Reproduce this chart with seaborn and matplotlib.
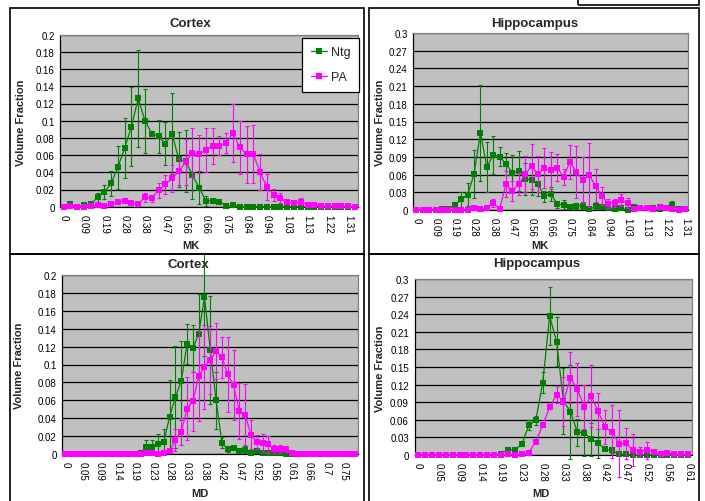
import numpy as np
import pandas as pd
import seaborn as sns
import matplotlib
matplotlib.use("Agg")
import matplotlib.pyplot as plt
from matplotlib.patches import Rectangle
from matplotlib.transforms import Bbox, TransformedBbox
from matplotlib.lines import Line2D

# ---------------- data ----------------
series_names = ["Ntg", "PA"]

mk_ticklabels = ["0", "0.09", "0.19", "0.28", "0.38", "0.47", "0.56", "0.66", "0.75",
                 "0.84", "0.94", "1.03", "1.13", "1.22", "1.31"]
md_ticklabels_ctx = ["0", "0.05", "0.09", "0.14", "0.19", "0.23", "0.28", "0.33", "0.38",
                     "0.42", "0.47", "0.52", "0.56", "0.61", "0.66", "0.7", "0.75"]
md_ticklabels_hip = ["0", "0.05", "0.09", "0.14", "0.19", "0.23", "0.28", "0.33", "0.38",
                     "0.42", "0.47", "0.52", "0.56", "0.61"]

# Cortex MK (44 bins)
ctx_mk_ntg = [0, 0.003, 0, 0.002, 0.003, 0.011, 0.017, 0.027, 0.046, 0.068,
              0.093, 0.126, 0.100, 0.085, 0.082, 0.073, 0.085, 0.055, 0.053, 0.037,
              0.022, 0.007, 0.007, 0.006, 0.001, 0.002, 0, 0, 0, 0,
              0, 0, 0, 0, 0, 0, 0, 0, 0, 0, 0, 0, 0, 0]
ctx_mk_ntg_err = [0, 0.001, 0, 0.001, 0.001, 0.005, 0.008, 0.014, 0.025, 0.035,
                  0.046, 0.056, 0.037, 0.003, 0.019, 0.025, 0.047, 0.032, 0.036, 0.028,
                  0.019, 0.006, 0.003, 0.003, 0.001, 0.001, 0, 0, 0, 0,
                  0, 0, 0, 0, 0, 0, 0, 0, 0, 0, 0, 0, 0, 0]
ctx_mk_pa = [0, 0.0005, 0, 0, 0.001, 0.002, 0.001, 0.003, 0.005, 0.007,
             0.004, 0.003, 0.011, 0.010, 0.019, 0.026, 0.033, 0.041, 0.052, 0.063,
             0.061, 0.066, 0.071, 0.071, 0.074, 0.086, 0.069, 0.061, 0.061, 0.040,
             0.023, 0.014, 0.010, 0.005, 0.004, 0.006, 0.002, 0.002, 0.001, 0.001,
             0.001, 0.001, 0.0005, 0]
ctx_mk_pa_err = [0, 0, 0, 0, 0.001, 0.001, 0.001, 0.001, 0.002, 0.003,
                 0.001, 0.001, 0.005, 0.004, 0.009, 0.011, 0.016, 0.016, 0.027, 0.029,
                 0.022, 0.026, 0.021, 0.011, 0.012, 0.034, 0.031, 0.033, 0.034, 0.021,
                 0.015, 0.007, 0.006, 0.002, 0.002, 0.004, 0.001, 0.001, 0, 0,
                 0, 0, 0, 0]

# Hippocampus MK (43 bins)
hip_mk_ntg = [0, 0, 0, 0, 0.001, 0.001, 0.008, 0.018, 0.026, 0.061,
              0.131, 0.073, 0.093, 0.090, 0.078, 0.063, 0.066, 0.053, 0.051, 0.044,
              0.023, 0.027, 0.010, 0.009, 0.005, 0.007, 0.007, 0.001, 0.006, 0.005,
              0.004, 0.001, 0.003, 0, 0.005, 0.003, 0.003, 0.004, 0.002, 0.003,
              0.009, 0.001, 0.002]
hip_mk_ntg_err = [0, 0, 0, 0, 0.001, 0.001, 0.005, 0.013, 0.019, 0.040,
                  0.081, 0.042, 0.032, 0.016, 0.018, 0.031, 0.034, 0.027, 0.025, 0.020,
                  0.010, 0.012, 0.006, 0.008, 0.002, 0.005, 0.006, 0.001, 0.004, 0.002,
                  0.002, 0.001, 0.002, 0, 0.003, 0.002, 0.002, 0.002, 0.001, 0.002,
                  0.007, 0.001, 0.002]
hip_mk_pa = [0, 0, 0, 0, 0, 0, 0, 0, 0, 0.003,
             0.002, 0.003, 0.012, 0.002, 0.044, 0.033, 0.044, 0.061, 0.074, 0.061,
             0.071, 0.067, 0.072, 0.056, 0.082, 0.064, 0.051, 0.059, 0.041, 0.024,
             0.011, 0.012, 0.017, 0.012, 0.001, 0.004, 0.004, 0.001, 0.005, 0.003,
             0.001, 0, 0.001]
hip_mk_pa_err = [0, 0, 0, 0, 0, 0, 0, 0, 0, 0.001,
                 0.001, 0.002, 0.007, 0.001, 0.022, 0.017, 0.018, 0.031, 0.038, 0.031,
                 0.034, 0.032, 0.023, 0.013, 0.029, 0.044, 0.039, 0.054, 0.028, 0.015,
                 0.007, 0.007, 0.010, 0.008, 0.001, 0.003, 0.003, 0.001, 0.003, 0.002,
                 0.001, 0, 0.001]

# Cortex MD (51 bins)
ctx_md_ntg = [0, 0, 0, 0, 0, 0, 0, 0, 0, 0,
              0, 0, 0, 0.002, 0.008, 0.008, 0.012, 0.014, 0.042, 0.064,
              0.082, 0.123, 0.118, 0.134, 0.175, 0.116, 0.060, 0.013, 0.006, 0.007,
              0.004, 0.005, 0.002, 0.004, 0.001, 0.002, 0.001, 0.001, 0, 0,
              0, 0, 0, 0, 0, 0, 0, 0, 0, 0, 0]
ctx_md_ntg_err = [0, 0, 0, 0, 0, 0, 0, 0, 0, 0,
                  0, 0, 0, 0.001, 0.008, 0.008, 0.011, 0.014, 0.041, 0.057,
                  0.044, 0.022, 0.026, 0.045, 0.066, 0.060, 0.032, 0.006, 0.003, 0.002,
                  0.002, 0.004, 0.001, 0.002, 0.001, 0.001, 0.001, 0.001, 0, 0,
                  0, 0, 0, 0, 0, 0, 0, 0, 0, 0, 0]
ctx_md_pa = [0, 0, 0, 0, 0, 0, 0, 0, 0, 0,
             0, 0, 0, 0, 0.001, 0.001, 0, 0.002, 0.004, 0.016,
             0.025, 0.051, 0.059, 0.087, 0.097, 0.105, 0.115, 0.108, 0.089, 0.077,
             0.048, 0.044, 0.022, 0.014, 0.013, 0.011, 0.006, 0.006, 0.006, 0.001,
             0, 0, 0, 0, 0, 0, 0, 0, 0, 0, 0]
ctx_md_pa_err = [0, 0, 0, 0, 0, 0, 0, 0, 0, 0,
                 0, 0, 0, 0, 0.001, 0.001, 0, 0.001, 0.002, 0.012,
                 0.015, 0.035, 0.033, 0.050, 0.047, 0.038, 0.031, 0.023, 0.042, 0.039,
                 0.031, 0.034, 0.016, 0.008, 0.010, 0.009, 0.004, 0.004, 0.003, 0.001,
                 0, 0, 0, 0, 0, 0, 0, 0, 0, 0, 0]

# Hippocampus MD (40 bins)
hip_md_ntg = [0, 0, 0, 0, 0, 0, 0, 0, 0, 0,
              0, 0, 0.002, 0.009, 0.009, 0.019, 0.051, 0.059, 0.123, 0.237,
              0.193, 0.092, 0.074, 0.039, 0.038, 0.027, 0.020, 0.010, 0.008, 0.001,
              0.001, 0, 0, 0, 0, 0, 0, 0, 0, 0]
hip_md_ntg_err = [0, 0, 0, 0, 0, 0, 0, 0, 0, 0,
                  0, 0, 0.001, 0.003, 0.002, 0.003, 0.008, 0.008, 0.018, 0.050,
                  0.042, 0.056, 0.080, 0.023, 0.040, 0.028, 0.025, 0.004, 0.004, 0.001,
                  0.001, 0, 0, 0, 0, 0, 0, 0, 0, 0]
hip_md_pa = [0, 0, 0, 0, 0, 0, 0, 0, 0, 0,
             0, 0, 0, 0.001, 0, 0.001, 0.004, 0.023, 0.051, 0.081,
             0.103, 0.091, 0.132, 0.112, 0.082, 0.100, 0.075, 0.047, 0.040, 0.019,
             0.020, 0.009, 0.005, 0.008, 0.005, 0.002, 0.003, 0.002, 0.001, 0.001]
hip_md_pa_err = [0, 0, 0, 0, 0, 0, 0, 0, 0, 0,
                 0, 0, 0, 0, 0, 0, 0, 0.002, 0.002, 0.002,
                 0.015, 0.042, 0.044, 0.045, 0.038, 0.053, 0.030, 0.029, 0.045, 0.057,
                 0.026, 0.027, 0.008, 0.015, 0.004, 0.002, 0.002, 0.001, 0, 0]

# ---------------- style ----------------
sns.set_style("white")
plt.rcParams['font.family'] = ['Liberation Sans', 'DejaVu Sans']

W, H = 705, 502
fig = plt.figure(figsize=(W / 100, H / 100), dpi=100)
fig.patch.set_facecolor("white")

GREEN = "#008000"
MAGENTA = "#FF00FF"
BG = "#C0C0C0"


def frac_rect(l, t, r, b):
    return [l / W, 1 - b / H, (r - l) / W, (b - t) / H]


def ftext(x, y, s, **kw):
    fig.text(x / W, 1 - y / H, s, ha="center", va="center", **kw)


def draw_panel(axbox, frame, ntg, ntg_err, pa, pa_err, ticklabels, ymax, ystep,
               title, title_xy, xlabel, xlabel_xy, ylabel_xy, legend=False):
    ax = fig.add_axes(frac_rect(*axbox))
    ax.set_facecolor(BG)
    n = len(ntg)
    x = np.arange(n)
    fb = TransformedBbox(Bbox.from_extents(frame[0] / W, 1 - frame[3] / H,
                                           frame[2] / W, 1 - frame[1] / H),
                         fig.transFigure)
    for vals, errs, color, z in [(ntg, ntg_err, GREEN, 3), (pa, pa_err, MAGENTA, 5)]:
        cont = ax.errorbar(x, vals, yerr=errs, fmt="none", ecolor=color,
                           elinewidth=0.8, capsize=1.6, capthick=0.8, zorder=z)
        for art in list(cont.lines[1]) + list(cont.lines[2]):
            art.set_clip_box(fb)
        df = pd.DataFrame({"x": x, "y": vals})
        sns.lineplot(data=df, x="x", y="y", color=color, marker="s", markersize=3.8,
                     markeredgewidth=0, linewidth=0.9, ax=ax, zorder=z + 1,
                     clip_on=False, legend=False, errorbar=None)

    ax.set_xlim(-0.5, n - 0.5)
    ax.set_ylim(0, ymax)
    yt = np.arange(0, ymax + ystep / 2, ystep)
    ax.set_yticks(yt)
    ax.set_yticklabels([f"{round(v, 2):g}" for v in yt])
    ax.set_xticks(x[::3])
    ax.set_xticklabels(ticklabels, rotation=-90)
    ax.set_xticks(x, minor=True)
    ax.tick_params(axis="both", which="both", direction="out", length=2.5, width=0.8,
                   color="black", pad=1.5, labelsize=7, labelcolor="black")
    ax.tick_params(axis="x", which="both", pad=2.5)
    ax.set_axisbelow(True)
    ax.yaxis.grid(True, color="black", linewidth=0.9)
    ax.xaxis.grid(False)
    ax.set_xlabel("")
    ax.set_ylabel("")
    for s in ["left", "bottom"]:
        ax.spines[s].set_color("black")
        ax.spines[s].set_linewidth(0.9)
    for s in ["top", "right"]:
        ax.spines[s].set_color("#808080")
        ax.spines[s].set_linewidth(0.9)

    ftext(*title_xy, title, fontsize=9.5, fontweight="bold")
    ftext(*xlabel_xy, xlabel, fontsize=8, fontweight="bold")
    ftext(*ylabel_xy, "Volume Fraction", fontsize=8, fontweight="bold", rotation=90)

    fig.add_artist(Rectangle((frame[0] / W, 1 - frame[3] / H),
                             (frame[2] - frame[0]) / W, (frame[3] - frame[1]) / H,
                             transform=fig.transFigure, fill=False,
                             edgecolor="black", linewidth=1.2))

    if legend:
        handles = [Line2D([], [], color=GREEN, marker="s", markersize=3.8,
                          markeredgewidth=0, linewidth=0.9),
                   Line2D([], [], color=MAGENTA, marker="s", markersize=3.8,
                          markeredgewidth=0, linewidth=0.9)]
        leg = ax.legend(handles, series_names, loc="upper left",
                        bbox_to_anchor=(0.812, 0.983), borderaxespad=0,
                        frameon=True, fancybox=False, edgecolor="black",
                        facecolor="white", framealpha=1, fontsize=9,
                        handlelength=1.3, labelspacing=1.05, borderpad=0.7,
                        handletextpad=0.3)
        leg.get_frame().set_linewidth(0.9)
        leg.set_zorder(20)
    return ax


draw_panel((60.3, 35.7, 358.3, 207.7), (10, 9, 364, 254.5),
           ctx_mk_ntg, ctx_mk_ntg_err, ctx_mk_pa, ctx_mk_pa_err, mk_ticklabels,
           0.2, 0.02, "Cortex", (190, 24), "MK", (191, 246.5), (21, 122.5), legend=True)
draw_panel((413.3, 34, 688.3, 211), (369, 9, 699, 254.5),
           hip_mk_ntg, hip_mk_ntg_err, hip_mk_pa, hip_mk_pa_err, mk_ticklabels,
           0.3, 0.03, "Hippocampus", (535, 24), "MK", (540, 246), (380.5, 123))
draw_panel((62.3, 275.7, 358.3, 455.3), (10, 254.5, 364, 510),
           ctx_md_ntg, ctx_md_ntg_err, ctx_md_pa, ctx_md_pa_err, md_ticklabels_ctx,
           0.2, 0.02, "Cortex", (188, 265.5), "MD", (200, 494.5), (19, 366))
draw_panel((414.5, 280, 691.7, 456), (369, 254.5, 699, 510),
           hip_md_ntg, hip_md_ntg_err, hip_md_pa, hip_md_pa_err, md_ticklabels_hip,
           0.3, 0.03, "Hippocampus", (537, 264.5), "MD", (541, 494.5), (380, 368.5))

# small empty box at the top right
fig.add_artist(Rectangle((578 / W, 1 - 6 / H), (699 - 578) / W, 12 / H,
                         transform=fig.transFigure, fill=False,
                         edgecolor="black", linewidth=1.2))

fig.savefig("out.png", dpi=100)
